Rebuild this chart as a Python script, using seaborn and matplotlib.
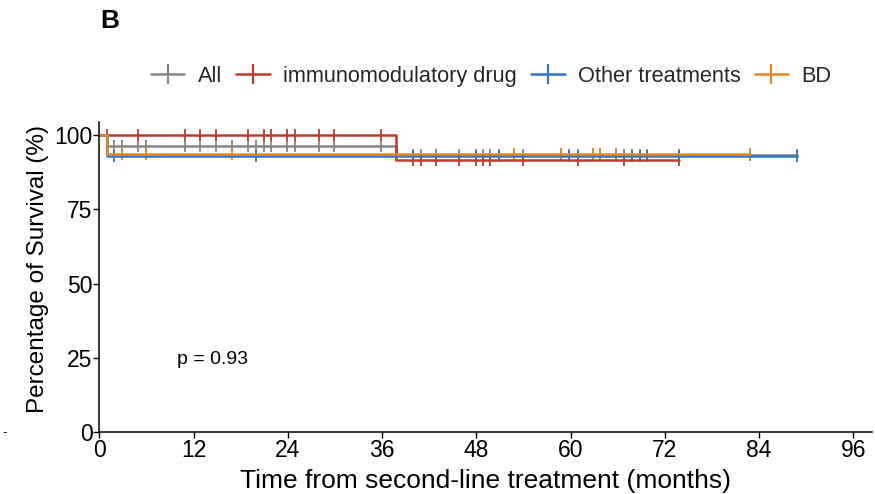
import numpy as np
import pandas as pd
import matplotlib
matplotlib.use("Agg")
import matplotlib.pyplot as plt
from matplotlib.lines import Line2D
import seaborn as sns

# ---------------- data ----------------
groups = ["All", "immunomodulatory drug", "Other treatments", "BD"]
colors = ["#868686", "#BC3C29", "#2F78C4", "#E18727"]

x_ticks = [0, 12, 24, 36, 48, 60, 72, 84, 96]
y_ticks = [0, 25, 50, 75, 100]

# step curves: times where the level changes, and the level from that time on
all_t = [0, 0.92, 37.8, 88.8]
all_s = [100, 96.4, 93.3, 93.3]
imd_t = [0, 37.8, 73.8]
imd_s = [100, 91.7, 91.7]
oth_t = [0, 0.92, 88.8]
oth_s = [100, 92.9, 92.9]
bd_t = [0, 0.92, 82.8]
bd_s = [100, 93.8, 93.8]

# censoring times
imd_cens = [0.92, 4.87, 10.9, 12.85, 14.8, 18.9, 20.9, 21.9, 23.9, 24.9, 27.9,
            29.9, 35.9, 39.9, 40.9, 42.9, 45.8, 47.9, 48.9, 49.8, 53.9, 60.9,
            66.8, 73.8]
oth_cens = [1.89, 19.9, 39.9, 47.9, 50.9, 59.8, 60.9, 67.8, 68.8, 69.8, 73.8, 88.8]
bd_cens = [2.87, 5.89, 16.9, 37.8, 52.8, 58.8, 62.8, 63.8, 65.8, 82.8]
all_cens = sorted(set(imd_cens) | set(oth_cens) | set(bd_cens))

p_text = "p = 0.93"

# ---------------- build tables ----------------
steps = {"All": (all_t, all_s), "immunomodulatory drug": (imd_t, imd_s),
         "Other treatments": (oth_t, oth_s), "BD": (bd_t, bd_s)}
cens = {"All": all_cens, "immunomodulatory drug": imd_cens,
        "Other treatments": oth_cens, "BD": bd_cens}

step_rows, cens_rows = [], []
for g in groups:
    t, s = steps[g]
    for ti, si in zip(t, s):
        step_rows.append((g, ti, si))
    for c in cens[g]:
        idx = np.searchsorted(t, c, side="right") - 1
        cens_rows.append((g, c, s[idx]))
step_df = pd.DataFrame(step_rows, columns=["group", "time", "surv"])
cens_df = pd.DataFrame(cens_rows, columns=["group", "time", "surv"])

# ---------------- plot ----------------
sns.set_style("ticks")
plt.rcParams["font.family"] = ["Liberation Sans", "DejaVu Sans"]

fig = plt.figure(figsize=(8.75, 4.94), dpi=100)
ax = fig.add_axes([0.1137, 0.1245, 0.8829, 0.6285])

pal = dict(zip(groups, colors))
for g in groups:
    sub = step_df[step_df.group == g]
    sns.lineplot(data=sub, x="time", y="surv", color=pal[g], ax=ax,
                 drawstyle="steps-post", estimator=None, sort=False,
                 linewidth=1.8, legend=False)
    csub = cens_df[cens_df.group == g]
    sns.scatterplot(data=csub, x="time", y="surv", color=pal[g], ax=ax,
                    marker="|", s=80, linewidth=1.3, legend=False)

ax.set_xlim(0, 98.4)
ax.set_ylim(0, 104.4)
ax.set_xticks(x_ticks)
ax.set_yticks(y_ticks)
ax.tick_params(axis="both", labelsize=16.5, length=4, width=1,
               color="black", labelcolor="black", pad=1, direction="out")
for sp in ["left", "bottom"]:
    ax.spines[sp].set_color("black")
    ax.spines[sp].set_linewidth(1.1)
sns.despine(ax=ax)
ax.set_xlabel("Time from second-line treatment (months)", fontsize=19,
              labelpad=5, color="black")
ax.set_ylabel("Percentage of Survival (%)", fontsize=17.5, labelpad=4,
              color="black")
ax.yaxis.label.set_y(0.527)

ax.text(9.9, 24.4, p_text, fontsize=14, ha="left", va="center", color="black")

handles = [Line2D([0], [0], color=c, lw=1.8, marker="|", markersize=15,
                  markeredgewidth=1.6) for c in colors]
fig.legend(handles, groups, loc="center", bbox_to_anchor=(491 / 875, 0.845),
           ncol=4, frameon=False, fontsize=15.7, handlelength=1.55,
           handletextpad=0.6, columnspacing=0.65, borderaxespad=0)

fig.text(0.114, 0.958, "B", fontsize=19, fontweight="bold", ha="left",
         va="center", color="black")
fig.text(0.003, 0.125, "-", fontsize=10, ha="left", va="center")

fig.savefig("out.png", dpi=100)
